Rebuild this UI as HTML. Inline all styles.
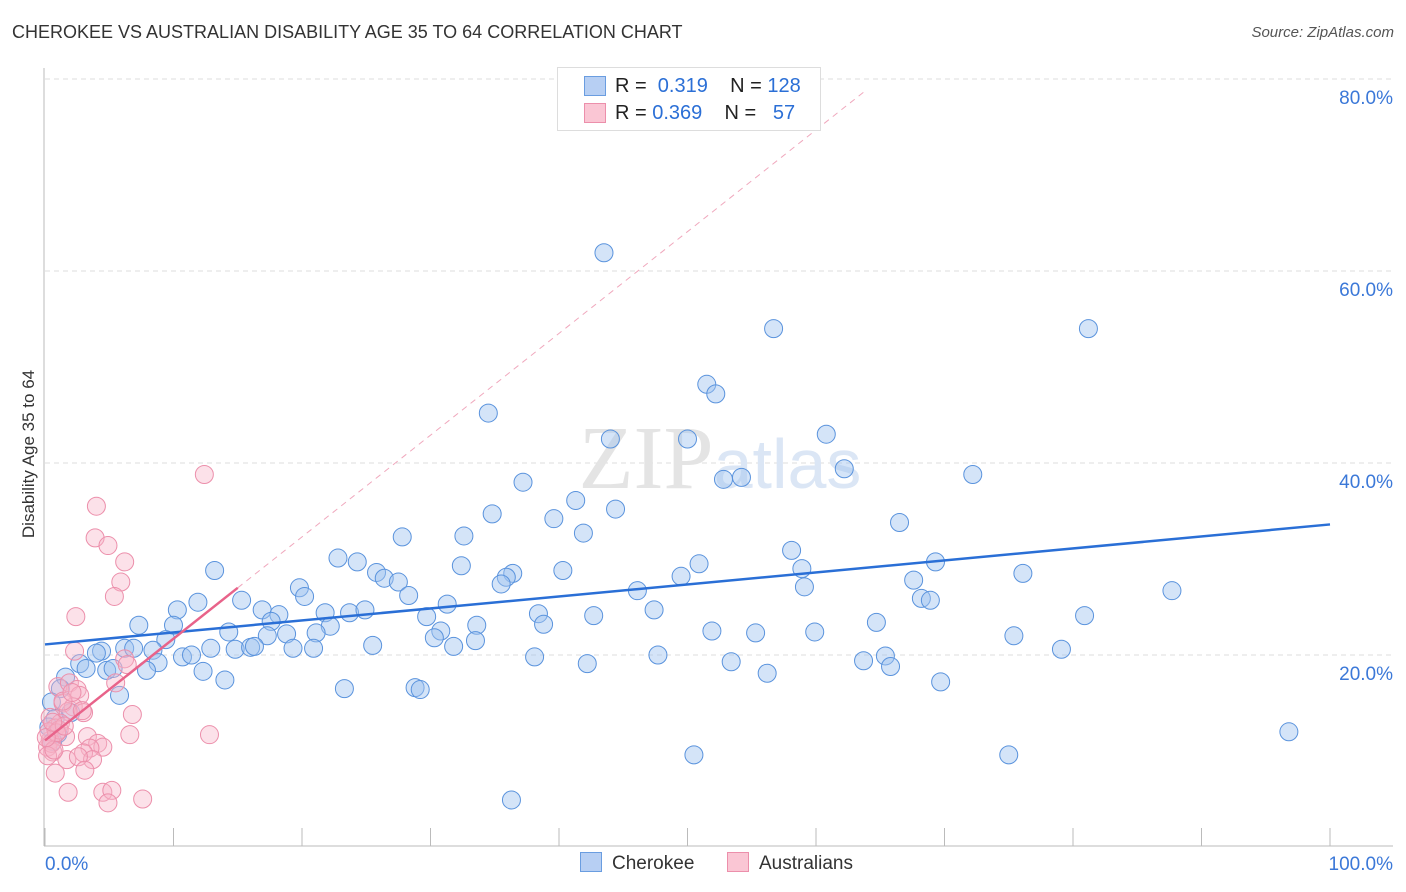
<!DOCTYPE html>
<html><head><meta charset="utf-8"><style>
body{margin:0;background:#fff;font-family:"Liberation Sans",sans-serif;}
#wrap{position:relative;width:1406px;height:892px;overflow:hidden;}
.t{position:absolute;white-space:nowrap;}
</style></head><body><div id="wrap">
<div class="t" style="left:12px;top:22px;font-size:18px;color:#333;">CHEROKEE VS AUSTRALIAN DISABILITY AGE 35 TO 64 CORRELATION CHART</div>
<div class="t" style="right:12px;top:24px;font-size:15px;color:#555;font-style:italic;">Source: ZipAtlas.com</div>
<div class="t" style="left:-56px;top:444px;font-size:17px;color:#333;transform:rotate(-90deg);width:170px;text-align:center;">Disability Age 35 to 64</div>
<svg id="svg" width="1406" height="892" style="position:absolute;left:0;top:0"></svg>
<div style="position:absolute;left:557px;top:67px;width:262px;height:62px;border:1px solid #ddd;background:#fff;font-size:20px;">
 <div style="position:absolute;left:26px;top:8px;width:20px;height:18px;background:#b7cff3;border:1px solid #6a9de0"></div>
 <div class="t" style="left:57px;top:7px;color:#222">R = &nbsp;<span style="color:#2b6fd6">0.319</span>&nbsp;&nbsp;&nbsp; N = <span style="color:#2b6fd6">128</span></div>
 <div style="position:absolute;left:26px;top:35px;width:20px;height:18px;background:#fac6d4;border:1px solid #ec8fab"></div>
 <div class="t" style="left:57px;top:34px;color:#222">R = <span style="color:#2b6fd6">0.369</span>&nbsp;&nbsp;&nbsp; N = &nbsp;&nbsp;<span style="color:#2b6fd6">57</span></div>
</div>
<div style="position:absolute;left:580px;top:852px;font-size:19px;color:#333;">
 <span style="position:absolute;left:0;top:0;white-space:nowrap"><span style="display:inline-block;width:20px;height:18px;background:#b7cff3;border:1px solid #6a9de0;vertical-align:-3px;margin-right:10px"></span>Cherokee</span>
 <span style="position:absolute;left:147px;top:0;white-space:nowrap"><span style="display:inline-block;width:20px;height:18px;background:#fac6d4;border:1px solid #ec8fab;vertical-align:-3px;margin-right:10px"></span>Australians</span>
</div>
</div>
<script>
const cherokeeX=[43.5,56.7,81.2,51.5,52.2,34.5,60.8,44.0,50.0,62.2,52.8,54.2,72.2,37.2,41.3,44.4,34.8,39.6,66.5,27.8,32.6,41.9,58.1,22.8,24.3,69.3,50.9,32.4,13.2,25.8,36.4,40.3,58.9,76.1,26.4,27.5,49.5,35.9,35.5,19.8,67.6,46.1,59.1,87.7,20.2,28.3,15.3,11.9,68.2,68.9,31.3,10.3,16.9,18.2,21.8,23.7,24.9,38.4,42.7,47.4,80.9,29.7,7.3,10.0,17.6,22.2,33.6,38.8,64.7,14.3,17.3,18.8,21.1,30.8,51.9,55.3,59.9,75.4,9.4,25.5,30.3,33.5,6.2,4.4,6.9,8.4,12.9,14.8,16.0,16.3,19.3,20.9,31.8,4.0,47.7,79.1,10.7,11.4,38.1,65.4,2.7,3.2,8.8,4.8,5.3,7.9,12.3,42.2,53.4,63.7,65.8,1.6,56.2,14.0,69.7,1.2,23.3,28.8,29.2,5.8,0.5,0.8,96.8,50.5,75.0,36.3,0.3,1.0,2.0,0.6];
const cherokeeY=[61.9,54.0,54.0,48.2,47.2,45.2,43.0,42.5,42.5,39.4,38.3,38.5,38.8,38.0,36.1,35.2,34.7,34.2,33.8,32.3,32.4,32.7,30.9,30.1,29.7,29.7,29.5,29.3,28.8,28.6,28.5,28.8,29.0,28.5,28.0,27.6,28.2,28.1,27.4,27.0,27.8,26.7,27.1,26.7,26.1,26.2,25.7,25.5,25.9,25.7,25.3,24.7,24.7,24.2,24.4,24.4,24.7,24.3,24.1,24.7,24.1,24.0,23.1,23.1,23.5,23.0,23.1,23.2,23.4,22.4,22.0,22.2,22.3,22.5,22.5,22.3,22.4,22.0,21.6,21.0,21.8,21.5,20.7,20.4,20.7,20.5,20.7,20.6,20.8,20.9,20.7,20.7,20.9,20.2,20.0,20.6,19.8,20.0,19.8,19.9,19.1,18.6,19.2,18.4,18.6,18.4,18.3,19.1,19.3,19.4,18.8,17.7,18.1,17.4,17.2,16.5,16.5,16.6,16.4,15.8,15.1,13.4,12.0,9.6,9.6,4.9,12.5,11.8,14.0,11.0];
const ausX=[12.4,4.0,3.9,4.9,6.2,5.9,5.4,2.4,2.3,6.2,6.4,5.5,1.0,1.9,2.5,2.7,1.4,2.2,3.0,1.8,0.4,1.2,0.8,1.6,0.4,0.2,0.6,6.8,6.6,12.8,3.3,4.1,4.5,3.5,3.0,3.7,1.7,2.6,3.1,0.8,1.8,4.5,5.2,4.9,7.6,0.3,0.5,1.1,0.9,0.2,1.4,2.9,0.7,1.5,0.1,2.1,0.6];
const ausY=[38.8,35.5,32.2,31.4,29.7,27.6,26.1,24.0,20.4,19.6,19.0,17.1,16.7,17.1,16.4,15.8,15.0,14.6,14.0,14.1,13.5,12.9,12.4,11.5,11.1,10.4,9.9,13.8,11.7,11.7,11.5,10.8,10.4,10.3,9.8,9.1,9.1,9.4,8.0,7.7,5.7,5.7,5.9,4.6,5.0,12.0,10.8,12.2,11.9,9.5,15.2,14.2,10.1,12.6,11.4,16.1,13.0];
const cherokeeTrend=[21.1,33.6]; // y at x=0 and x=100
const ausTrend=[11.1,1.06]; // intercept, slope
const yTicks=[20,40,60,80];
const xTickLabels=["0.0%","100.0%"];
const X=v=>45+v*12.85, Y=v=>847-v*9.6;
const s=document.getElementById('svg'),NS="http://www.w3.org/2000/svg";
function mk(tag,at,name){const e=document.createElementNS(NS,tag);for(const k in at)e.setAttribute(k,at[k]);


s.appendChild(e);return e;}
yTicks.forEach(t=>{mk('line',{x1:45,x2:1393,y1:Y(t),y2:Y(t),stroke:'#ddd','stroke-dasharray':'5,4'},'gridline-'+t);
const tx=mk('text',{x:1393,y:Y(t)+25,'text-anchor':'end','font-size':19,fill:'#3b78d8','font-family':'Liberation Sans'},'y-tick-label-'+t);tx.textContent=t.toFixed(1)+'%';});
mk('line',{x1:44,x2:44,y1:68,y2:846,stroke:'#bbb'},'y-axis-line');
mk('line',{x1:44,x2:1393,y1:846,y2:846,stroke:'#bbb'},'x-axis-line');
for(let i=0;i<=10;i++){mk('line',{x1:X(i*10),x2:X(i*10),y1:828,y2:846,stroke:'#bbb'},'x-tick-'+i);}
xTickLabels.forEach((l,i)=>{const t=mk('text',{x:i?1393:45,y:870,'text-anchor':i?'end':'start','font-size':19,fill:'#3b78d8','font-family':'Liberation Sans'},'x-tick-label-'+i);t.textContent=l;});
const wm=mk('text',{x:720,y:488,'text-anchor':'middle','font-size':90,fill:'#e4e4e4','font-family':'Liberation Serif'},'watermark');wm.innerHTML='ZIP<tspan fill="#dbe6f5" font-family="Liberation Sans" font-size="70">atlas</tspan>';
mk('line',{x1:X(15),y1:Y(ausTrend[0]+ausTrend[1]*15),x2:X(63.8),y2:Y(ausTrend[0]+ausTrend[1]*63.8),stroke:'#f0a8bd','stroke-dasharray':'6,5','stroke-width':1},'australians-trend-extension');
cherokeeX.forEach((x,i)=>mk('circle',{cx:X(x),cy:Y(cherokeeY[i]),r:9,fill:'rgba(160,195,240,0.45)',stroke:'#5a93dd','stroke-width':1},'cherokee-point'));
ausX.forEach((x,i)=>mk('circle',{cx:X(x),cy:Y(ausY[i]),r:9,fill:'rgba(248,180,200,0.4)',stroke:'#ec8fab','stroke-width':1},'australians-point'));
mk('line',{x1:X(0),y1:Y(cherokeeTrend[0]),x2:X(100),y2:Y(cherokeeTrend[1]),stroke:'#2a6fd6','stroke-width':2.5},'cherokee-trend-line');
mk('line',{x1:X(0),y1:Y(ausTrend[0]),x2:X(15),y2:Y(ausTrend[0]+ausTrend[1]*15),stroke:'#e8638a','stroke-width':2.5},'australians-trend-line');
</script></body></html>
